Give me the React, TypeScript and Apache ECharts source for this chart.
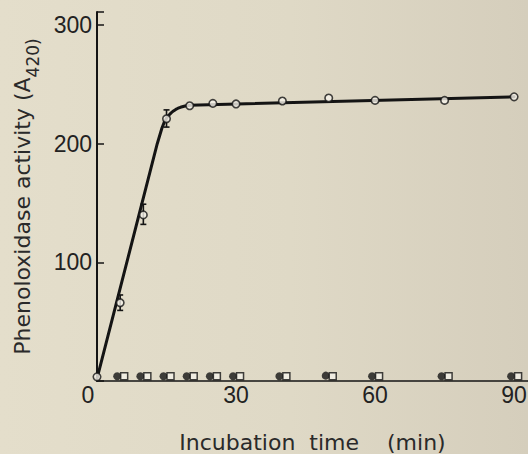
import React, { useEffect, useRef } from "react";
import * as echarts from "echarts";

// Open circles: phenoloxidase activity vs incubation time
const times = [0, 5, 10, 15, 20, 25, 30, 40, 50, 60, 75, 90];
const activity = [3.5, 66, 140, 221, 232, 234, 233.5, 236, 238.5, 236.5, 236.5, 239.5];

// Error bars (low / high) on the early points
const errTimes = [5, 10, 15];
const errLow = [59.5, 132, 214];
const errHigh = [72.5, 149, 228.5];

// Controls lying on the baseline: filled circles and open squares
const controlTimes = [5, 10, 15, 20, 25, 30, 40, 50, 60, 75, 90];
const filledValues = [4, 4, 4, 4, 4, 4, 4, 4.5, 4, 4, 4];
const squareValues = [4, 4, 4, 4, 4, 4, 4, 4, 4, 4, 4];

// Hand-drawn fitted curve
const fitTimes = [0, 13, 14, 14.5, 15, 15.5, 16, 16.5, 17, 17.5, 18, 19, 20, 90];
const fitValues = [2, 200, 213, 218, 221.5, 224, 226, 227.6, 228.9, 229.9, 230.7, 231.8, 232.4, 239.5];

const yTicks = [100, 200, 300];
const xTicks = [0, 30, 60, 90];

const INK = "#141414";

export default function App() {
  const ref = useRef<HTMLDivElement>(null);
  useEffect(() => {
    if (!ref.current) return;
    const chart = echarts.init(ref.current, null, { renderer: "svg" });
    const tickFont = "'Liberation Sans', Arial, sans-serif";
    const nameFont = "'DejaVu Sans', sans-serif";
    chart.setOption({
      animation: false,
      backgroundColor: "transparent",
      grid: { left: 97, top: 12, right: 0, bottom: 73, outerBoundsMode: "none" },
      xAxis: {
        type: "value",
        min: 0,
        max: 93,
        interval: 30,
        name: "Incubation  time    (min)",
        nameLocation: "middle",
        nameGap: 50,
        nameTextStyle: { fontFamily: nameFont, fontSize: 22, color: "#2a2a2a" },
        axisLine: { show: true, onZero: false, lineStyle: { color: INK, width: 1.5 } },
        axisTick: { show: false },
        splitLine: { show: false },
        axisLabel: {
          margin: 2,
          fontFamily: tickFont,
          fontSize: 23,
          color: "#222",
          showMaxLabel: true,
          formatter: (v: number) => {
            if (v === 0) return "{z|0}";
            return xTicks.includes(v) ? String(v) : "";
          },
          rich: {
            z: { fontFamily: tickFont, fontSize: 23, color: "#222", padding: [0, 18, 0, 0] },
          },
        },
      },
      yAxis: {
        type: "value",
        min: 0,
        max: 311,
        interval: 100,
        name: "{m|Phenoloxidase activity (A}{s|420)}",
        nameLocation: "middle",
        nameGap: 56,
        nameTextStyle: {
          fontFamily: nameFont,
          fontSize: 22,
          color: "#2a2a2a",
          rich: {
            m: { fontFamily: nameFont, fontSize: 22, color: "#2a2a2a", lineHeight: 30, verticalAlign: "top" },
            s: { fontFamily: nameFont, fontSize: 17, color: "#2a2a2a", lineHeight: 30, verticalAlign: "bottom", padding: [8, 0, 0, 0] },
          },
        },
        axisLine: { show: true, lineStyle: { color: INK, width: 2 } },
        axisTick: { show: true, inside: true, length: 7, lineStyle: { color: INK, width: 1.5 } },
        splitLine: { show: false },
        axisLabel: {
          margin: 5,
          fontFamily: tickFont,
          fontSize: 23,
          color: "#222",
          formatter: (v: number) => (yTicks.includes(v) ? String(v) : ""),
        },
      },
      series: [
        {
          name: "fit",
          type: "line",
          data: fitTimes.map((t, i) => [t, fitValues[i]]),
          smooth: false,
          showSymbol: false,
          symbol: "none",
          lineStyle: { color: INK, width: 3, join: "round", cap: "round" },
          z: 2,
        },
        {
          name: "errors",
          type: "custom",
          data: errTimes.map((t, i) => [t, errLow[i], errHigh[i]]),
          encode: { x: 0, y: [1, 2] },
          renderItem: (_params: any, api: any) => {
            const t = api.value(0);
            const lo = api.coord([t, api.value(1)]);
            const hi = api.coord([t, api.value(2)]);
            const w = 3;
            const st = { stroke: INK, lineWidth: 1.6 };
            return {
              type: "group",
              children: [
                { type: "line", shape: { x1: lo[0], y1: lo[1], x2: hi[0], y2: hi[1] }, style: st },
                { type: "line", shape: { x1: lo[0] - w, y1: lo[1], x2: lo[0] + w, y2: lo[1] }, style: st },
                { type: "line", shape: { x1: hi[0] - w, y1: hi[1], x2: hi[0] + w, y2: hi[1] }, style: st },
              ],
            };
          },
          z: 3,
        },
        {
          name: "filled",
          type: "scatter",
          data: controlTimes.map((t, i) => [t, filledValues[i]]),
          symbol: "circle",
          symbolSize: 8,
          symbolOffset: [-3, 0],
          itemStyle: { color: INK },
          z: 4,
        },
        {
          name: "square",
          type: "scatter",
          data: controlTimes.map((t, i) => [t, squareValues[i]]),
          symbol: "rect",
          symbolSize: 7,
          symbolOffset: [4, 0],
          itemStyle: { color: "#f4f1e8", borderColor: INK, borderWidth: 1.5 },
          z: 4,
        },
        {
          name: "activity",
          type: "scatter",
          data: times.map((t, i) => [t, activity[i]]),
          symbol: "circle",
          symbolSize: 7.5,
          itemStyle: { color: "#f6f3ea", borderColor: INK, borderWidth: 1.6 },
          z: 5,
        },
      ],
    });
    return () => chart.dispose();
  }, []);
  return (
    <div
      ref={ref}
      style={{
        position: "fixed",
        left: 0,
        top: 0,
        width: 528,
        height: 454,
        background: "linear-gradient(to right, #e4decb 0%, #dfd9c6 55%, #d5cebc 100%)",
      }}
    />
  );
}
